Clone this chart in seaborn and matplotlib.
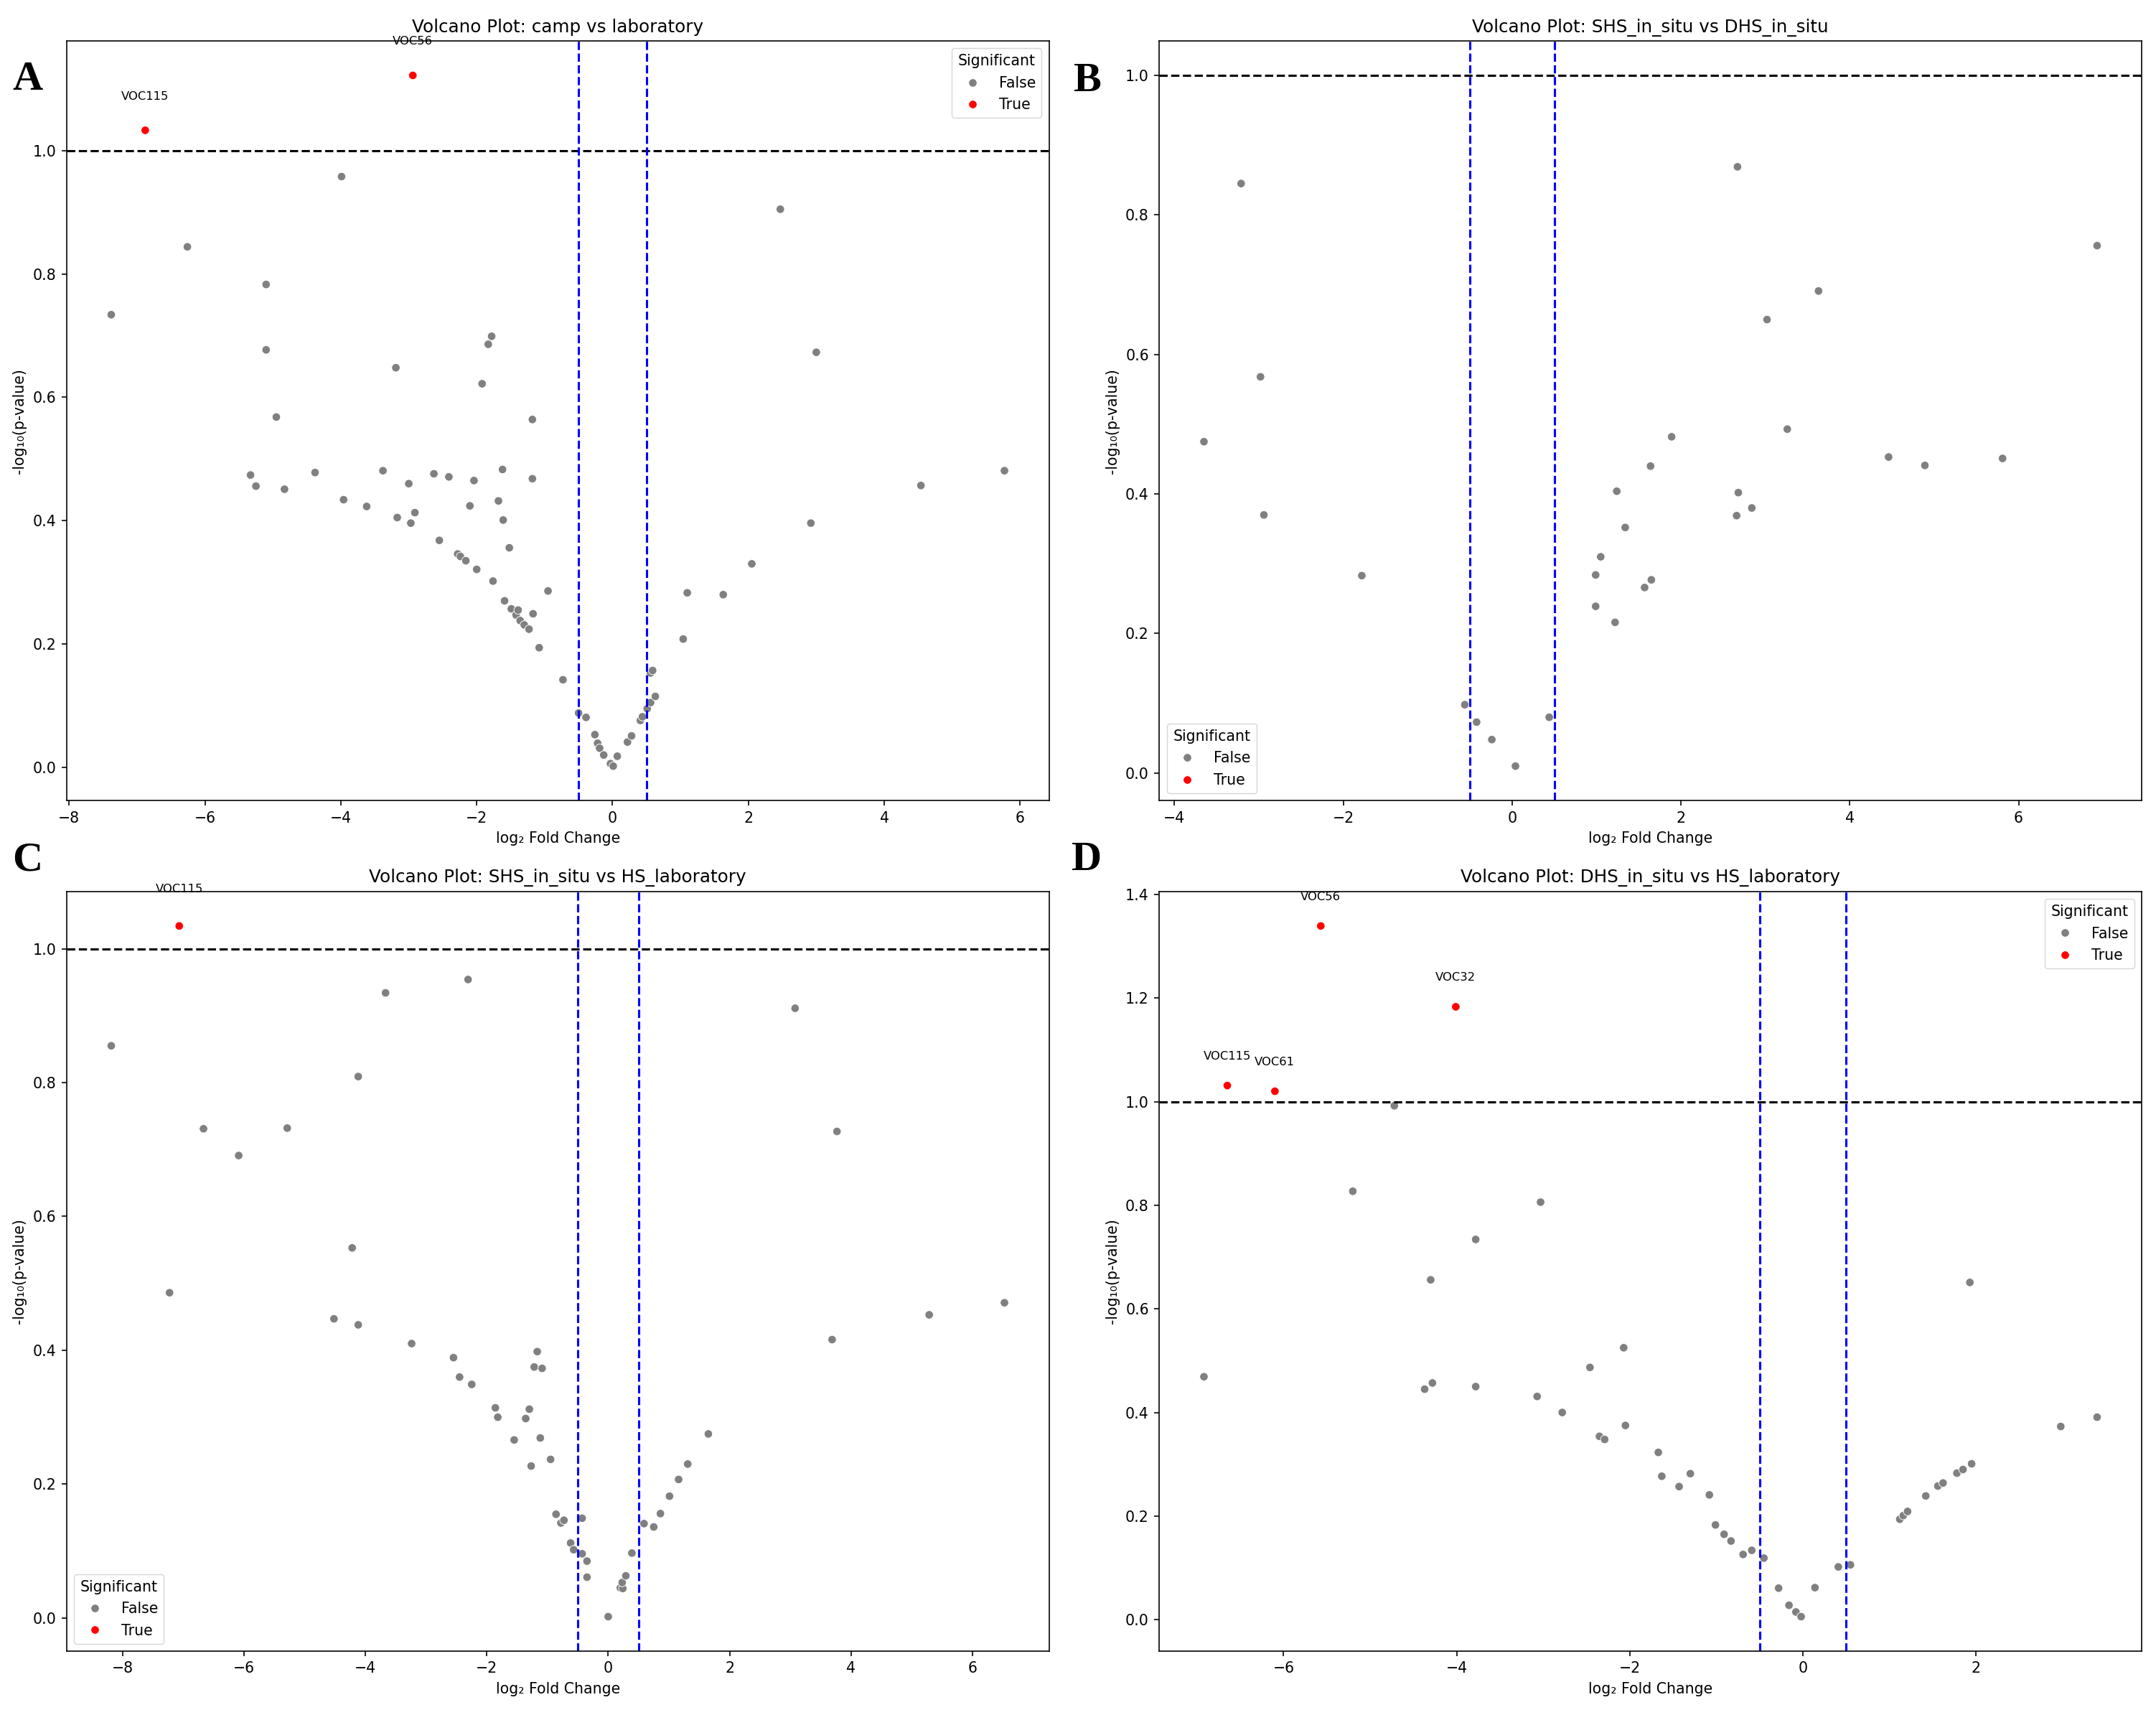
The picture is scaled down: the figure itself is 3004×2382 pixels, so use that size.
import matplotlib

matplotlib.use("Agg")
import matplotlib.pyplot as plt
import numpy as np
import pandas as pd
import seaborn as sns

# ---- panel A: camp vs laboratory ----
A_X = [-7.38, -6.26, -5.10, -5.10, -4.95, -5.33, -5.25, -4.83, -4.38, -3.99,
       -3.96, -3.62, -3.38, -3.19, -3.17, -3.00, -2.97, -2.91, -2.63, -2.55,
       -2.41, -2.28, -2.24, -2.16, -2.10, -2.04, -2.00, -1.92, -1.83, -1.78,
       -1.76, -1.68, -1.62, -1.61, -1.59, -1.52, -1.49, -1.42, -1.39, -1.36,
       -1.30, -1.23, -1.18, -1.17, -1.18, -1.08, -0.95, -0.73, -0.50, -0.39,
       -0.26, -0.22, -0.19, -0.13, -0.03, 0.01, 0.07, 0.22, 0.28, 0.41,
       0.44, 0.51, 0.56, 0.63, 0.56, 0.59, 1.04, 1.10, 1.63, 2.05,
       2.47, 2.92, 3.00, 4.54, 5.77]
A_Y = [0.734, 0.844, 0.783, 0.677, 0.568, 0.474, 0.456, 0.451, 0.478, 0.958,
       0.434, 0.423, 0.481, 0.648, 0.405, 0.460, 0.396, 0.413, 0.476, 0.368,
       0.471, 0.346, 0.342, 0.335, 0.424, 0.465, 0.321, 0.622, 0.686, 0.699,
       0.302, 0.432, 0.483, 0.401, 0.270, 0.356, 0.257, 0.247, 0.255, 0.238,
       0.231, 0.224, 0.564, 0.249, 0.468, 0.194, 0.286, 0.142, 0.088, 0.081,
       0.053, 0.039, 0.031, 0.020, 0.006, 0.002, 0.018, 0.041, 0.051, 0.076,
       0.082, 0.095, 0.105, 0.115, 0.153, 0.157, 0.208, 0.283, 0.280, 0.330,
       0.905, 0.396, 0.673, 0.457, 0.481]
A_SIG_NAMES = ["VOC115", "VOC56"]
A_SIG_X = [-6.88, -2.94]
A_SIG_Y = [1.033, 1.122]

# ---- panel B: SHS_in_situ vs DHS_in_situ ----
B_X = [-3.65, -3.21, -2.98, -2.94, -1.78, -0.56, -0.42, -0.24, 0.04, 0.44,
       0.99, 0.99, 1.05, 1.22, 1.24, 1.34, 1.57, 1.64, 1.65, 1.89,
       2.66, 2.67, 2.68, 2.84, 3.02, 3.26, 3.63, 4.46, 4.89, 5.81, 6.93]
B_Y = [0.475, 0.845, 0.568, 0.370, 0.283, 0.098, 0.073, 0.048, 0.010, 0.080,
       0.284, 0.239, 0.310, 0.216, 0.404, 0.352, 0.266, 0.440, 0.277, 0.482,
       0.369, 0.869, 0.402, 0.380, 0.650, 0.493, 0.691, 0.453, 0.441, 0.451, 0.756]
B_SIG_NAMES = []
B_SIG_X = []
B_SIG_Y = []

# ---- panel C: SHS_in_situ vs HS_laboratory ----
C_X = [-8.19, -7.23, -6.67, -6.09, -5.29, -4.52, -4.22, -4.12, -4.12, -3.67,
       -3.24, -2.55, -2.45, -2.31, -2.25, -1.86, -1.82, -1.55, -1.36, -1.30,
       -1.27, -1.22, -1.17, -1.12, -1.09, -0.95, -0.86, -0.78, -0.73, -0.62,
       -0.57, -0.43, -0.43, -0.35, -0.35, 0.00, 0.20, 0.24, 0.23, 0.29,
       0.39, 0.59, 0.75, 0.86, 1.01, 1.16, 1.31, 1.65, 3.08, 3.69,
       3.77, 5.29, 6.53]
C_Y = [0.855, 0.486, 0.731, 0.691, 0.732, 0.447, 0.553, 0.809, 0.438, 0.934,
       0.410, 0.389, 0.360, 0.954, 0.349, 0.314, 0.300, 0.266, 0.298, 0.312,
       0.227, 0.375, 0.398, 0.269, 0.373, 0.237, 0.155, 0.142, 0.146, 0.112,
       0.102, 0.149, 0.096, 0.085, 0.061, 0.002, 0.045, 0.044, 0.053, 0.063,
       0.097, 0.141, 0.136, 0.156, 0.182, 0.207, 0.230, 0.275, 0.911, 0.416,
       0.727, 0.453, 0.471]
C_SIG_NAMES = ["VOC115"]
C_SIG_X = [-7.07]
C_SIG_Y = [1.034]

# ---- panel D: DHS_in_situ vs HS_laboratory ----
D_X = [-6.92, -5.20, -4.72, -4.37, -4.30, -4.28, -3.78, -3.78, -3.07, -3.03,
       -2.78, -2.46, -2.35, -2.29, -2.07, -2.05, -1.67, -1.63, -1.43, -1.30,
       -1.08, -1.01, -0.91, -0.83, -0.69, -0.59, -0.45, -0.28, -0.16, -0.08,
       -0.02, 0.14, 0.41, 0.55, 1.12, 1.16, 1.21, 1.42, 1.56, 1.62,
       1.78, 1.85, 1.95, 1.93, 2.98, 3.40]
D_Y = [0.469, 0.827, 0.992, 0.445, 0.656, 0.457, 0.734, 0.450, 0.431, 0.806,
       0.400, 0.487, 0.354, 0.348, 0.525, 0.375, 0.323, 0.277, 0.257, 0.282,
       0.241, 0.183, 0.165, 0.152, 0.126, 0.134, 0.119, 0.061, 0.028, 0.015,
       0.006, 0.062, 0.102, 0.106, 0.194, 0.201, 0.209, 0.239, 0.258, 0.264,
       0.283, 0.290, 0.301, 0.651, 0.373, 0.391]
D_SIG_NAMES = ["VOC56", "VOC32", "VOC115", "VOC61"]
D_SIG_X = [-5.57, -4.01, -6.65, -6.10]
D_SIG_Y = [1.339, 1.183, 1.031, 1.020]

PANELS = [
    ("A", "camp vs laboratory", A_X, A_Y, A_SIG_NAMES, A_SIG_X, A_SIG_Y, "upper right"),
    ("B", "SHS_in_situ vs DHS_in_situ", B_X, B_Y, B_SIG_NAMES, B_SIG_X, B_SIG_Y, "lower left"),
    ("C", "SHS_in_situ vs HS_laboratory", C_X, C_Y, C_SIG_NAMES, C_SIG_X, C_SIG_Y, "lower left"),
    ("D", "DHS_in_situ vs HS_laboratory", D_X, D_Y, D_SIG_NAMES, D_SIG_X, D_SIG_Y, "upper right"),
]

# axes boxes in figure fractions (left, bottom, width, height)
AX_BOXES = [
    (0.0309, 0.5318, 0.4557, 0.4443),
    (0.5377, 0.5318, 0.4557, 0.4443),
    (0.0309, 0.0344, 0.4557, 0.4443),
    (0.5377, 0.0344, 0.4557, 0.4443),
]
LETTER_POS = [(38, 111), (1514, 113), (38, 1198), (1514, 1198)]

K = 1.48
plt.rcParams.update({
    "font.family": ["DejaVu Sans"],
    "font.size": 10 * K,
    "axes.titlesize": 12 * K,
    "axes.labelsize": 10 * K,
    "xtick.labelsize": 10 * K,
    "ytick.labelsize": 10 * K,
    "legend.fontsize": 10 * K,
    "legend.title_fontsize": 10 * K,
    "axes.linewidth": 0.8 * K,
    "lines.linewidth": 1.5 * K,
    "xtick.major.size": 3.5 * K,
    "ytick.major.size": 3.5 * K,
    "xtick.major.width": 0.8 * K,
    "ytick.major.width": 0.8 * K,
    "xtick.major.pad": 3.5 * K,
    "ytick.major.pad": 3.5 * K,
    "axes.labelpad": 4 * K,
    "axes.titlepad": 6 * K,
})

W, H = 3004, 2382
fig = plt.figure(figsize=(W / 100, H / 100), dpi=100)

for (letter, title, xs, ys, names, sx, sy, legend_loc), box, lpos in zip(PANELS, AX_BOXES, LETTER_POS):
    ax = fig.add_axes(box)
    df = pd.DataFrame({
        "log2FC": list(xs) + list(sx),
        "neglog10p": list(ys) + list(sy),
        "Significant": [False] * len(xs) + [True] * len(sx),
    })
    sns.scatterplot(
        data=df,
        x="log2FC",
        y="neglog10p",
        hue="Significant",
        hue_order=[False, True],
        palette={False: "gray", True: "red"},
        s=70,
        ax=ax,
    )
    ax.axhline(1.0, color="black", linestyle="--")
    ax.axvline(-0.5, color="blue", linestyle="--")
    ax.axvline(0.5, color="blue", linestyle="--")
    for name, x, y in zip(names, sx, sy):
        ax.text(x, y + 0.05, name, fontsize=8 * K, ha="center")
    ax.set_title(f"Volcano Plot: {title}")
    ax.set_xlabel("log\u2082 Fold Change")
    ax.set_ylabel("-log\u2081\u2080(p-value)")
    ax.legend(title="Significant", loc=legend_loc)
    fig.text(lpos[0] / W, 1 - lpos[1] / H, letter, fontsize=42, fontweight="bold",
             family="Liberation Serif", ha="center", va="center")

fig.savefig("out.png", dpi=100)
